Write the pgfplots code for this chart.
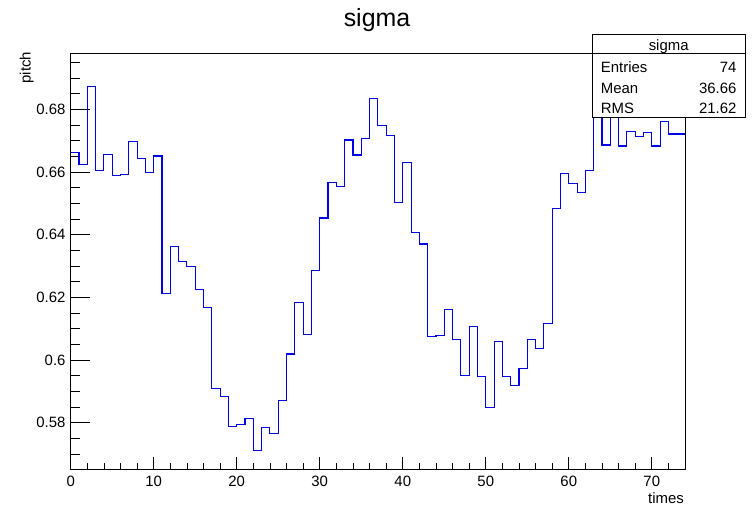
\documentclass[border=0pt]{standalone}
\usepackage{pgfplots}
\pgfplotsset{compat=1.18}
\usepackage{fontspec}
\setmainfont{Liberation Sans}
\definecolor{histblue}{RGB}{0,0,230}
\begin{document}
\begin{tikzpicture}[x=1bp,y=1bp]
\path[use as bounding box] (0,0) rectangle (752,506);
\begin{axis}[
  at={(70.7bp,36.7bp)}, anchor=south west,
  scale only axis, width=614.3bp, height=416.3bp,
  xmin=0, xmax=74, ymin=0.56511, ymax=0.69797,
  xtick={0,10,20,30,40,50,60,70},
  minor xtick={0,2,...,72},
  ytick={0.58,0.60,0.62,0.64,0.66,0.68},
  yticklabels={0.58,0.6,0.62,0.64,0.66,0.68},
  minor ytick={0.57,0.575,0.58,0.585,0.59,0.595,0.6,0.605,0.61,0.615,0.62,0.625,0.63,0.635,0.64,0.645,0.65,0.655,0.66,0.665,0.67,0.675,0.68,0.685,0.69,0.695},
  tick align=inside, xtick pos=lower, ytick pos=left,
  xtick style={/pgfplots/major tick length=12.7bp,/pgfplots/minor tick length=6.3bp},
  ytick style={/pgfplots/major tick length=19.3bp,/pgfplots/minor tick length=9.3bp},
  every tick/.style={black, line width=0.8bp},
  axis line style={line width=0.9bp},
  /pgf/number format/assume math mode=true,
  xticklabel style={font=\fontsize{15}{18}\selectfont, inner sep=0pt, yshift=-6.7bp},
  yticklabel style={font=\fontsize{15}{18}\selectfont, inner sep=0pt, xshift=-5bp},
  scaled y ticks=false,
  clip=false,
]
\addplot[const plot, histblue, line width=1.1bp] coordinates {
(0,0.6662) (1,0.6623) (2,0.6872) (3,0.6606) (4,0.6655) (5,0.6588) (6,0.6591) (7,0.6698) (8,0.6643) (9,0.6599)
(10,0.6651) (11,0.6211) (12,0.6362) (13,0.6315) (14,0.6299) (15,0.6226) (16,0.6167) (17,0.5908) (18,0.5884) (19,0.5788)
(20,0.5793) (21,0.5814) (22,0.5710) (23,0.5785) (24,0.5764) (25,0.5870) (26,0.6019) (27,0.6183) (28,0.6081) (29,0.6286)
(30,0.6453) (31,0.6567) (32,0.6553) (33,0.6702) (34,0.6654) (35,0.6707) (36,0.6835) (37,0.6747) (38,0.6715) (39,0.6503)
(40,0.6630) (41,0.6406) (42,0.6370) (43,0.6074) (44,0.6078) (45,0.6162) (46,0.6064) (47,0.5951) (48,0.6106) (49,0.5947)
(50,0.5848) (51,0.6059) (52,0.5947) (53,0.5918) (54,0.5972) (55,0.6064) (56,0.6038) (57,0.6117) (58,0.6484) (59,0.6596)
(60,0.6562) (61,0.6534) (62,0.6605) (63,0.6920) (64,0.6686) (65,0.6880) (66,0.6683) (67,0.6729) (68,0.6713) (69,0.6725)
(70,0.6683) (71,0.6761) (72,0.6721) (73,0.6721) (74,0.6721)
};
\end{axis}
% title
\node[anchor=base, inner sep=0pt] at (377,479.3) {\fontsize{25}{30}\selectfont sigma};
% axis titles
\node[rotate=90, anchor=base east, inner sep=0pt] at (30.7,454.3) {\fontsize{15}{18}\selectfont pitch};
\node[anchor=base east, inner sep=0pt] at (684,2.6) {\fontsize{15}{18}\selectfont times};
% stats box
\draw[fill=white, line width=0.9bp] (592.3,388.7) rectangle (745,471.7);
\draw[line width=0.9bp] (592.3,452.7) -- (745,452.7);
\node[anchor=base, inner sep=0pt] at (668.7,455) {\fontsize{15}{18}\selectfont sigma};
\node[anchor=base west, inner sep=0pt] at (600.7,433.7) {\fontsize{15}{18}\selectfont Entries};
\node[anchor=base east, inner sep=0pt] at (736.7,433.7) {\fontsize{15}{18}\selectfont 74};
\node[anchor=base west, inner sep=0pt] at (600.7,412.7) {\fontsize{15}{18}\selectfont Mean};
\node[anchor=base east, inner sep=0pt] at (736.7,412.7) {\fontsize{15}{18}\selectfont 36.66};
\node[anchor=base west, inner sep=0pt] at (600.7,392.3) {\fontsize{15}{18}\selectfont RMS};
\node[anchor=base east, inner sep=0pt] at (736.7,392.3) {\fontsize{15}{18}\selectfont 21.62};
\end{tikzpicture}
\end{document}
